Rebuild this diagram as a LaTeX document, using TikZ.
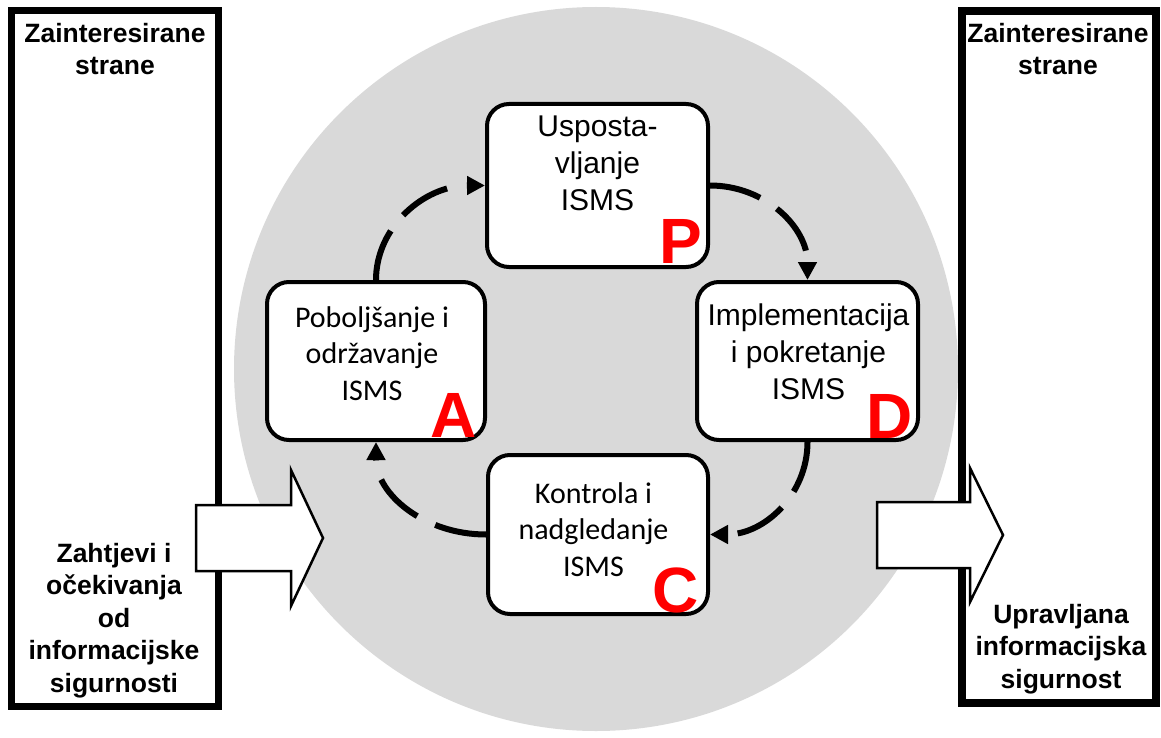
\documentclass[tikz,border=0pt]{standalone}
\usepackage{fontspec}
\setmainfont{Liberation Sans}
\newfontfamily\carl{Carlito}
\usetikzlibrary{arrows.meta,calc}
\definecolor{circgray}{RGB}{217,217,217}
\definecolor{pdcared}{RGB}{255,0,0}
\begin{document}
\begin{tikzpicture}[x=1pt,y=-1pt,
  outerbox/.style={draw=black, line width=7pt, fill=white, inner sep=0pt},
  stagebox/.style={draw=black, line width=4pt, fill=white, rounded corners=22pt, inner sep=0pt},
  sidetxt/.style={font=\fontsize{26.5}{32.5}\selectfont\bfseries, align=center, inner sep=0pt, anchor=north},
  stagetxt/.style={font=\fontsize{30}{37}\selectfont, align=center, inner sep=0pt, anchor=north},
  stagetxtc/.style={font=\carl\fontsize{30}{36.5}\selectfont, align=center, inner sep=0pt, anchor=north},
  letter/.style={font=\fontsize{64}{64}\selectfont\bfseries, text=pdcared, inner sep=0pt, anchor=base east},
  cyclearrow/.style={line width=6pt, dash pattern=on 52pt off 20pt, -{Triangle[length=18pt,width=18pt]}},
  bigarrow/.style={draw=black, line width=2.5pt, fill=white}
]
\useasboundingbox (0,0) rectangle (1161,738);
\fill[circgray] (596,369) circle[radius=362];

% outer boxes
\node[outerbox, minimum width=207pt, minimum height=695pt] (L) at (114.5,358.5) {};
\node[outerbox, line width=8pt, minimum width=194pt, minimum height=692pt] (R) at (1059,357) {};

% stage boxes
\node[stagebox, minimum width=221pt, minimum height=163pt] (P) at (597.5,185.5) {};
\node[stagebox, minimum width=218pt, minimum height=158pt] (A) at (376,361) {};
\node[stagebox, minimum width=221pt, minimum height=158pt] (D) at (807.5,361) {};
\node[stagebox, minimum width=220pt, minimum height=159pt] (C) at (598,534.5) {};

% stage texts
\node[stagetxt] (Pt) at (597.5,116) {Usposta-\\vljanje\\ISMS};
\node[stagetxt] (Dt) at (808.5,304) {Implementacija\\i pokretanje\\ISMS};
\node[stagetxtc] (At) at (372,306) {Poboljšanje i\\održavanje\\ISMS};
\node[stagetxtc] (Ct) at (593.5,482) {Kontrola i\\nadgledanje\\ISMS};

% letters
\node[letter] (Pl) at (702.4,263) {P};
\node[letter] (Al) at (477,437) {A};
\node[letter] (Dl) at (913,438) {D};
\node[letter] (Cl) at (698.5,612) {C};

% side texts
\node[sidetxt] (Lt) at (115,23) {Zainteresirane\\strane};
\node[sidetxt] (Lb) at (114,543) {Zahtjevi i\\očekivanja\\od\\informacijske\\sigurnosti};
\node[sidetxt] (Rt) at (1058,23) {Zainteresirane\\strane};
\node[sidetxt] (Rb) at (1061,604) {Upravljana\\informacijska\\sigurnost};

% cycle arrows
\draw[cyclearrow] (A.north) .. controls ($(A.north)+(0,-53)$) and ($(P.west)+(-61,0)$) .. (P.west);
\draw[cyclearrow] (P.east) .. controls ($(P.east)+(55,0)$) and ($(D.north)+(0,-53)$) .. (D.north);
\draw[cyclearrow] (D.south) .. controls ($(D.south)+(0,52)$) and ($(C.east)+(55,0)$) .. (C.east);
\draw[cyclearrow] (C.west) .. controls ($(C.west)+(-62,0)$) and ($(A.south)+(0,52)$) .. (A.south);

% big arrows
\draw[bigarrow] (196,505) -- (291,505) -- (291,470) -- (323,538) -- (291,606) -- (291,571) -- (196,571) -- cycle;
\draw[bigarrow] (877,502) -- (970,502) -- (970,468) -- (1003,535) -- (970,602) -- (970,568) -- (877,568) -- cycle;
\end{tikzpicture}
\end{document}
